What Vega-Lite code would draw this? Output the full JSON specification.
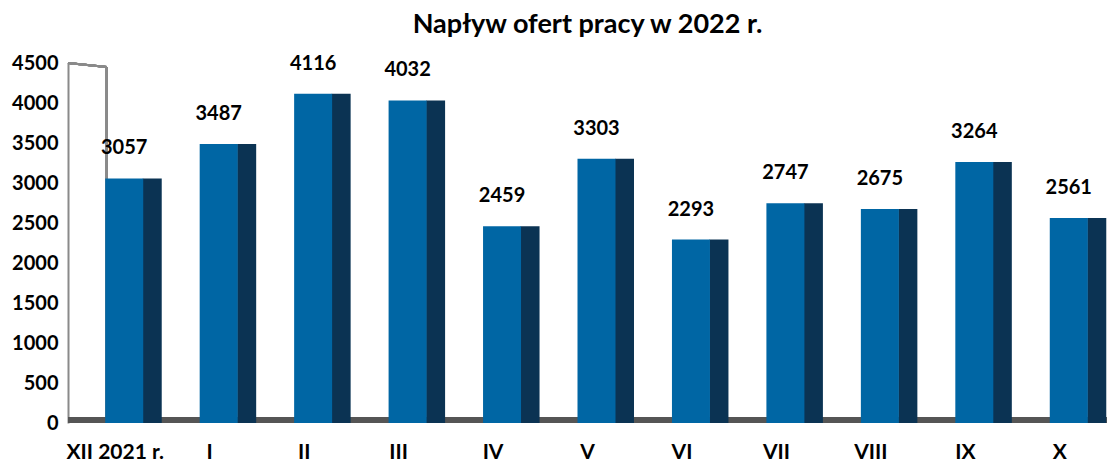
{
  "$schema": "https://vega.github.io/schema/vega-lite/v6.json",
  "width": 1039,
  "height": 360,
  "autosize": {"type": "none"},
  "padding": {"left": 68, "top": 63, "right": 0, "bottom": 40},
  "title": {"text": "Napływ ofert pracy w 2022 r.", "font": "Lato", "fontSize": 27, "fontWeight": "bold", "color": "#000000", "anchor": "middle", "offset": 14},
  "config": {"view": {"stroke": null}, "font": "Lato"},
  "data": {"values": [
    {"m": "XII 2021 r.", "v": 3057},
    {"m": "I", "v": 3487},
    {"m": "II", "v": 4116},
    {"m": "III", "v": 4032},
    {"m": "IV", "v": 2459},
    {"m": "V", "v": 3303},
    {"m": "VI", "v": 2293},
    {"m": "VII", "v": 2747},
    {"m": "VIII", "v": 2675},
    {"m": "IX", "v": 3264},
    {"m": "X", "v": 2561}
  ]},
  "encoding": {
    "x": {"field": "m", "type": "nominal", "sort": null, "scale": {"paddingInner": 0, "paddingOuter": 0},
      "axis": {"title": null, "labelAngle": 0, "labelFont": "Lato", "labelFontSize": 21, "labelFontWeight": "bold", "labelColor": "#000", "ticks": false, "domain": false, "labelPadding": 18}},
    "y": {"field": "v", "type": "quantitative", "scale": {"domain": [0, 4500], "nice": false},
      "axis": {"title": null, "format": "d", "values": [0,500,1000,1500,2000,2500,3000,3500,4000,4500], "labelFont": "Lato", "labelFontSize": 20, "labelFontWeight": "bold", "labelColor": "#000", "ticks": false, "grid": false, "domainColor": "#8a8a8a", "domainWidth": 2, "labelPadding": 10}}
  },
  "layer": [
    {"mark": {"type": "rule", "color": "#8a8a8a", "strokeWidth": 2}, "encoding": {"x": {"datum": "XII 2021 r.", "bandPosition": 0}, "x2": {"datum": "XII 2021 r.", "bandPosition": 0.41}, "y": {"datum": 4500}, "y2": {"datum": 4450}}},
    {"mark": {"type": "rule", "color": "#8a8a8a", "strokeWidth": 2}, "encoding": {"x": {"datum": "XII 2021 r.", "bandPosition": 0.41}, "y": {"datum": 4450}, "y2": {"datum": 0}}},
    {"mark": {"type": "rule", "color": "#555555", "strokeWidth": 6, "yOffset": -3}, "encoding": {"x": null, "y": {"datum": 0}}},
    {"mark": {"type": "bar", "color": "#0b3353", "width": 19, "xOffset": 37}},
    {"mark": {"type": "bar", "color": "#0066a4", "width": 38, "xOffset": 9}},
    {"mark": {"type": "text", "font": "Lato", "fontSize": 20, "fontWeight": "bold", "color": "#000", "baseline": "bottom", "dy": -20, "xOffset": 9}, "encoding": {"text": {"field": "v", "type": "quantitative", "format": "d"}}}
  ]
}
